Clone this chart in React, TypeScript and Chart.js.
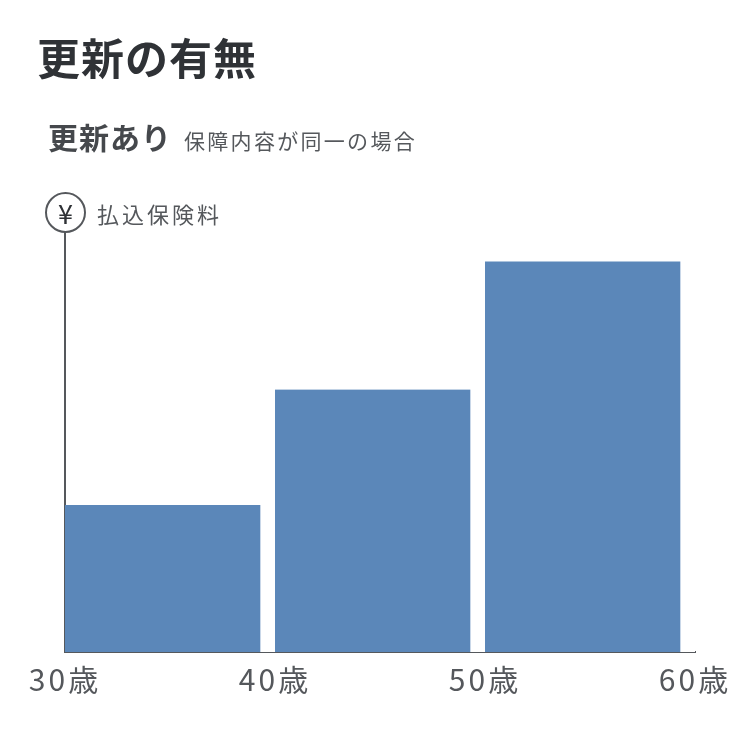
import React, { useEffect, useRef } from "react";
import { Chart, registerables } from "chart.js";

Chart.register(...registerables);

const categories = ["30〜40歳", "40〜50歳", "50〜60歳"];
const premiums = [3.5, 6.25, 9.3];
const tickLabels = ["30歳", "40歳", "50歳", "60歳"];
const yMax = 10;

const BAR_COLOR = "#5b87b9";
const AXIS_COLOR = "#55585c";
const TEXT_DARK = "#2f3236";
const TEXT_MID = "#55585c";
const JP = "'Noto Sans CJK JP', 'Noto Sans', sans-serif";
const NUM = "'Noto Sans CJK JP', 'Noto Sans', sans-serif";

const letterSpacingPlugin = {
  id: "tickLetterSpacing",
  beforeDraw(chart: any) {
    const ctx = chart.ctx as any;
    if ("letterSpacing" in ctx) ctx.letterSpacing = "3px";
  },
  afterDraw(chart: any) {
    const ctx = chart.ctx as any;
    if ("letterSpacing" in ctx) ctx.letterSpacing = "0px";
  },
};

export default function App() {
  const canvasRef = useRef<HTMLCanvasElement | null>(null);

  useEffect(() => {
    const canvas = canvasRef.current;
    if (!canvas) return;
    const chart = new Chart(canvas, {
      type: "bar",
      data: {
        labels: categories,
        datasets: [
          {
            data: premiums,
            backgroundColor: BAR_COLOR,
            borderColor: "#ffffff",
            borderWidth: { top: 0, right: 15, bottom: 0, left: 0 },
            borderSkipped: false,
            barPercentage: 1,
            categoryPercentage: 1,
            xAxisID: "x",
          },
        ],
      },
      options: {
        responsive: false,
        animation: false,
        events: [],
        layout: { padding: { left: 65, top: 232, right: 55, bottom: 42 } },
        plugins: {
          legend: { display: false },
          tooltip: { enabled: false },
          title: { display: false },
        },
        scales: {
          x: {
            type: "category",
            display: false,
            offset: true,
          },
          x2: {
            type: "category",
            position: "bottom",
            labels: tickLabels,
            offset: false,
            z: 1,
            grid: { display: false, drawTicks: false },
            border: { display: true, color: AXIS_COLOR, width: 2 },
            ticks: {
              padding: 10,
              color: TEXT_MID,
              maxRotation: 0,
              autoSkip: false,
              font: { family: NUM, size: 30 },
            },
          },
          y: {
            type: "linear",
            min: 0,
            max: yMax,
            z: 1,
            grid: { display: false, drawTicks: false },
            border: { display: true, color: AXIS_COLOR, width: 2 },
            ticks: { display: false },
          },
        },
      },
      plugins: [letterSpacingPlugin],
    });
    return () => chart.destroy();
  }, []);

  return (
    <div style={{ position: "absolute", left: 0, top: 0, width: 750, height: 750, background: "#fff", overflow: "hidden" }}>
      <canvas ref={canvasRef} width={750} height={750} style={{ position: "absolute", left: 0, top: 0 }} />
      <div
        style={{
          position: "absolute",
          left: 37,
          top: 35,
          fontFamily: JP,
          fontWeight: 700,
          fontSize: 43,
          letterSpacing: 1,
          lineHeight: "43px",
          color: TEXT_DARK,
          whiteSpace: "nowrap",
        }}
      >
        更新の有無
      </div>
      <div
        style={{
          position: "absolute",
          left: 48,
          top: 120,
          display: "flex",
          alignItems: "baseline",
          fontFamily: JP,
          whiteSpace: "nowrap",
          color: TEXT_DARK,
        }}
      >
        <span style={{ fontWeight: 700, fontSize: 30, letterSpacing: 1, lineHeight: "32px", color: "#45484c" }}>更新あり</span>
        <span style={{ fontSize: 21, letterSpacing: 2.3, marginLeft: 12, color: TEXT_MID }}>保障内容が同一の場合</span>
      </div>
      <div
        style={{
          position: "absolute",
          left: 45,
          top: 192,
          width: 41,
          height: 41,
          boxSizing: "border-box",
          border: `2px solid ${AXIS_COLOR}`,
          borderRadius: "50%",
          display: "flex",
          alignItems: "center",
          justifyContent: "center",
          fontFamily: JP,
          fontSize: 27,
          color: TEXT_DARK,
          lineHeight: 1,
        }}
      >
        ¥
      </div>
      <div
        style={{
          position: "absolute",
          left: 97,
          top: 199,
          fontFamily: JP,
          fontSize: 22,
          letterSpacing: 3,
          lineHeight: "28px",
          color: TEXT_MID,
          whiteSpace: "nowrap",
        }}
      >
        払込保険料
      </div>
    </div>
  );
}
